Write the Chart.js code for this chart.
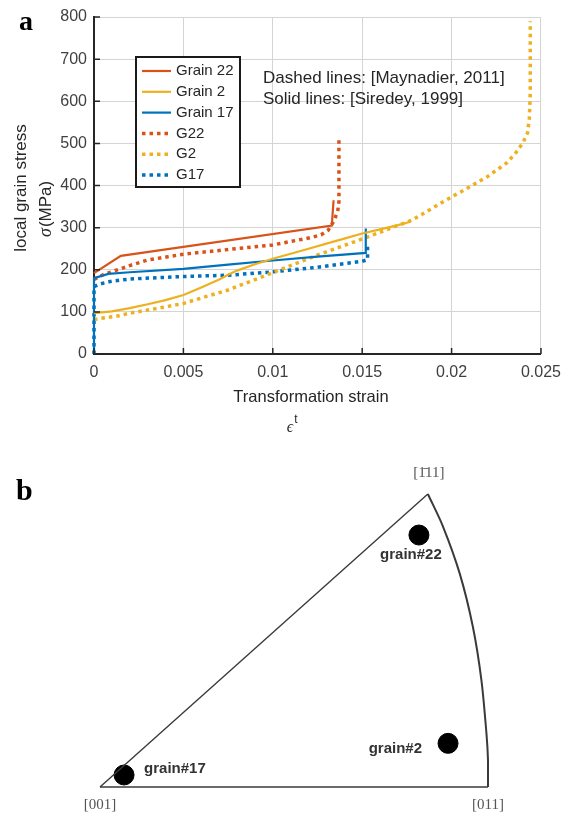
<!DOCTYPE html>
<html>
<head>
<meta charset="utf-8">
<script src="https://cdn.jsdelivr.net/npm/chart.js@4.4.1/dist/chart.umd.min.js"></script>
<style>
  html, body { margin: 0; padding: 0; background: #fff; }
  #wrap { position: relative; width: 570px; height: 814px; }
  #stressChart { position: absolute; left: 0; top: 0; }
  #ipfChart { position: absolute; left: 0; top: 440px; }
</style>
</head>
<body>
<div id="wrap">
  <canvas id="stressChart" width="570" height="440"></canvas>
  <canvas id="ipfChart" width="570" height="374"></canvas>
</div>
<script>
// ---- panel a : local grain stress vs transformation strain ----
const strainTicks = [0, 0.005, 0.01, 0.015, 0.02, 0.025];
const strainTickLabels = ['0', '0.005', '0.01', '0.015', '0.02', '0.025'];
const stressTicks = [0, 100, 200, 300, 400, 500, 600, 700, 800];

const seriesNames = ['Grain 22', 'Grain 2', 'Grain 17', 'G22', 'G2', 'G17'];
const seriesColors = ['#D95319', '#EDB120', '#0072BD', '#D95319', '#EDB120', '#0072BD'];

// solid lines [Siredey, 1999]
const grain22Strain = [0, 0.0015, 0.0133, 0.0134];
const grain22Stress = [192, 233, 305, 365];
const grain2Strain = [0, 0.001, 0.002, 0.003, 0.004, 0.005, 0.006, 0.007, 0.0075, 0.008, 0.009, 0.010, 0.011, 0.012, 0.013, 0.014, 0.015, 0.016, 0.017, 0.0177];
const grain2Stress = [97, 101, 109, 118, 128, 140, 158, 177, 188, 198, 213, 226, 238, 250, 262, 274, 286, 296, 306, 314];
const grain17Strain = [0, 0, 0.0008, 0.002, 0.005, 0.0075, 0.01, 0.0125, 0.0152, 0.0152];
const grain17Stress = [0, 180, 190, 194, 202, 212, 222, 231, 240, 298];

// dotted lines [Maynadier, 2011]
const g22Strain = [0, 0.0005, 0.0016, 0.002, 0.003, 0.005, 0.0075, 0.01, 0.0116, 0.0122, 0.0127, 0.0131, 0.01345, 0.01364, 0.0137, 0.0137];
const g22Stress = [177, 188, 204, 210, 223, 237, 248, 259, 272, 277, 283, 294, 318, 342, 362, 510];
const g2Strain = [0, 0.0014, 0.002, 0.0035, 0.005, 0.0075, 0.01, 0.0125, 0.015, 0.0178, 0.0198, 0.0209, 0.022, 0.0231, 0.0236, 0.024, 0.02425, 0.02435, 0.0244, 0.0244];
const g2Stress = [82, 91, 97, 108, 120, 152, 193, 235, 273, 318, 368, 394, 421, 454, 478, 502, 525, 560, 620, 790];
const g17Strain = [0, 0, 0.0003, 0.001, 0.002, 0.005, 0.0075, 0.01, 0.0125, 0.015, 0.0153, 0.0153];
const g17Stress = [0, 160, 166, 173, 178, 184, 187, 195, 206, 220, 224, 255];

// ---- panel b : inverse pole figure ----
const ipfCornerNames = ['[001]', '[011]', '[1\u030411]'];
const ipfCornerU = [0, 1, 0.845];
const ipfCornerV = [0, 0, 1];
const ipfArcU = [0.845, 0.884, 0.927, 0.961, 0.983, 0.996, 1.0, 1.0];
const ipfArcV = [1, 0.889, 0.729, 0.547, 0.365, 0.183, 0.092, 0];
const grainNames = ['grain#22', 'grain#2', 'grain#17'];
const grainU = [0.822, 0.897, 0.062];
const grainV = [0.860, 0.149, 0.041];

const sans = '"Liberation Sans", Arial, Helvetica, sans-serif';
const serif = '"Liberation Serif", "DejaVu Serif", "Times New Roman", serif';

function pairs(xs, ys) {
  return xs.map((x, i) => ({ x: x, y: ys[i] }));
}

const stressSeries = [
  pairs(grain22Strain, grain22Stress),
  pairs(grain2Strain, grain2Stress),
  pairs(grain17Strain, grain17Stress),
  pairs(g22Strain, g22Stress),
  pairs(g2Strain, g2Stress),
  pairs(g17Strain, g17Stress)
];

// legend, titles, inward tick marks
const stressDecor = {
  id: 'stressDecor',
  afterDatasetsDraw(chart) {
    const ctx = chart.ctx;
    const xs = chart.scales.x, ys = chart.scales.y;
    const area = chart.chartArea;
    ctx.save();

    // MATLAB style inward ticks
    ctx.strokeStyle = '#262626';
    ctx.lineWidth = 1.5;
    ctx.beginPath();
    stressTicks.forEach(v => {
      const y = ys.getPixelForValue(v);
      ctx.moveTo(area.left, y);
      ctx.lineTo(area.left + 6, y);
    });
    strainTicks.forEach(v => {
      const x = xs.getPixelForValue(v);
      ctx.moveTo(x, area.bottom);
      ctx.lineTo(x, area.bottom - 6);
    });
    ctx.stroke();

    // legend box
    const lg = { left: 136, top: 57, width: 104, height: 130, row0: 71, step: 20.8 };
    ctx.fillStyle = '#fff';
    ctx.fillRect(lg.left, lg.top, lg.width, lg.height);
    ctx.strokeStyle = '#1a1a1a';
    ctx.lineWidth = 2;
    ctx.strokeRect(lg.left, lg.top, lg.width, lg.height);
    ctx.font = '15px ' + sans;
    ctx.textBaseline = 'middle';
    ctx.textAlign = 'left';
    chart.data.datasets.forEach((ds, i) => {
      const y = lg.row0 + i * lg.step;
      ctx.beginPath();
      ctx.setLineDash(ds.borderDash);
      ctx.lineCap = 'butt';
      ctx.lineWidth = ds.borderWidth;
      ctx.strokeStyle = ds.borderColor;
      ctx.moveTo(142, y);
      ctx.lineTo(171, y);
      ctx.stroke();
      ctx.setLineDash([]);
      ctx.fillStyle = '#262626';
      ctx.fillText(ds.label, 176, y);
    });

    // source note
    ctx.font = '17px ' + sans;
    ctx.fillStyle = '#262626';
    ctx.fillText('Dashed lines: [Maynadier, 2011]', 263, 78);
    ctx.fillText('Solid lines: [Siredey, 1999]', 263, 99);

    // x title
    ctx.textAlign = 'center';
    ctx.font = '16.5px ' + sans;
    ctx.fillText('Transformation strain', 311, 397);
    ctx.font = 'italic 16px ' + serif;
    ctx.fillText('\u03F5', 290, 428);
    ctx.font = '12px ' + sans;
    ctx.fillText('t', 296, 420);

    // y title
    ctx.save();
    ctx.translate(21, 188);
    ctx.rotate(-Math.PI / 2);
    ctx.font = '17px ' + sans;
    ctx.textAlign = 'center';
    ctx.fillText('local grain stress', 0, 0);
    ctx.restore();
    ctx.save();
    ctx.translate(46, 237);
    ctx.rotate(-Math.PI / 2);
    ctx.textAlign = 'left';
    ctx.font = 'italic 18px ' + serif;
    ctx.fillText('\u03C3', 0, 0);
    const sw = ctx.measureText('\u03C3').width;
    ctx.font = '17px ' + sans;
    ctx.fillText('(MPa)', sw + 1, 0);
    ctx.restore();

    // panel letter
    ctx.font = 'bold 28px ' + serif;
    ctx.textAlign = 'left';
    ctx.textBaseline = 'alphabetic';
    ctx.fillStyle = '#000';
    ctx.fillText('a', 19, 30);
    ctx.restore();
  }
};

new Chart(document.getElementById('stressChart'), {
  type: 'scatter',
  data: {
    datasets: stressSeries.map((d, i) => ({
      label: seriesNames[i],
      data: d,
      showLine: true,
      borderColor: seriesColors[i],
      backgroundColor: seriesColors[i],
      borderWidth: i < 3 ? 2.2 : 3.5,
      borderDash: i < 3 ? [] : [3.5, 4],
      borderCapStyle: 'butt',
      pointRadius: 0,
      tension: 0,
      clip: 6
    }))
  },
  options: {
    responsive: false,
    animation: false,
    layout: { padding: { top: 17, right: 22, left: 0, bottom: 0 } },
    plugins: { legend: { display: false }, tooltip: { enabled: false } },
    scales: {
      x: {
        type: 'linear',
        min: 0,
        max: 0.025,
        afterBuildTicks: s => { s.ticks = strainTicks.map(v => ({ value: v })); },
        afterFit: s => { s.height = 86; },
        grid: { color: '#d4d4d4', lineWidth: 1, drawTicks: false },
        border: { display: true, color: '#262626', width: 2 },
        ticks: {
          color: '#404040',
          padding: 9,
          maxRotation: 0,
          font: { family: sans, size: 16 },
          callback: (v, i) => strainTickLabels[i]
        }
      },
      y: {
        type: 'linear',
        min: 0,
        max: 800,
        afterBuildTicks: s => { s.ticks = stressTicks.map(v => ({ value: v })); },
        afterFit: s => { s.width = 94; },
        grid: { color: '#d4d4d4', lineWidth: 1, drawTicks: false },
        border: { display: true, color: '#262626', width: 2 },
        ticks: {
          color: '#404040',
          padding: 7,
          font: { family: sans, size: 16 }
        }
      }
    }
  },
  plugins: [stressDecor]
});

// ---- panel b ----
const grainLabelPlace = [
  { dx: -8, dy: 20, align: 'center' },
  { dx: -26, dy: 6, align: 'right' },
  { dx: 20, dy: -6, align: 'left' }
];
const cornerLabelPlace = [
  { dx: 0, dy: 18 },
  { dx: 0, dy: 18 },
  { dx: 1, dy: -21 }
];

const ipfDecor = {
  id: 'ipfDecor',
  afterDatasetsDraw(chart) {
    const ctx = chart.ctx;
    const xs = chart.scales.x, ys = chart.scales.y;
    ctx.save();
    ctx.textBaseline = 'middle';
    ctx.font = '15px ' + serif;
    ctx.fillStyle = '#555';
    ctx.textAlign = 'center';
    ipfCornerNames.forEach((name, i) => {
      const px = xs.getPixelForValue(ipfCornerU[i]) + cornerLabelPlace[i].dx;
      const py = ys.getPixelForValue(ipfCornerV[i]) + cornerLabelPlace[i].dy;
      ctx.fillText(name, px, py);
    });
    ctx.font = 'bold 15px ' + sans;
    ctx.fillStyle = '#333';
    grainNames.forEach((name, i) => {
      const p = grainLabelPlace[i];
      ctx.textAlign = p.align;
      ctx.fillText(name, xs.getPixelForValue(grainU[i]) + p.dx, ys.getPixelForValue(grainV[i]) + p.dy);
    });
    ctx.font = 'bold 30px ' + serif;
    ctx.fillStyle = '#000';
    ctx.textAlign = 'left';
    ctx.textBaseline = 'alphabetic';
    ctx.fillText('b', 16, 60);
    ctx.restore();
  }
};

const edgeStyle = { showLine: true, borderColor: '#3a3a3a', pointRadius: 0, clip: false };

new Chart(document.getElementById('ipfChart'), {
  type: 'scatter',
  data: {
    datasets: [
      Object.assign({ data: pairs([ipfCornerU[0], ipfCornerU[2]], [ipfCornerV[0], ipfCornerV[2]]), borderWidth: 1.4 }, edgeStyle),
      Object.assign({ data: pairs([ipfCornerU[0], ipfCornerU[1]], [ipfCornerV[0], ipfCornerV[1]]), borderWidth: 1.6 }, edgeStyle),
      Object.assign({ data: pairs(ipfArcU, ipfArcV), borderWidth: 2, tension: 0.3 }, edgeStyle),
      {
        data: pairs(grainU, grainV),
        showLine: false,
        pointRadius: 10,
        pointBackgroundColor: '#000',
        pointBorderColor: '#000',
        clip: false
      }
    ]
  },
  options: {
    responsive: false,
    animation: false,
    layout: { padding: { left: 100, right: 82, top: 54, bottom: 27 } },
    plugins: { legend: { display: false }, tooltip: { enabled: false } },
    scales: {
      x: { type: 'linear', min: 0, max: 1, display: false },
      y: { type: 'linear', min: 0, max: 1, display: false }
    }
  },
  plugins: [ipfDecor]
});
</script>
</body>
</html>
